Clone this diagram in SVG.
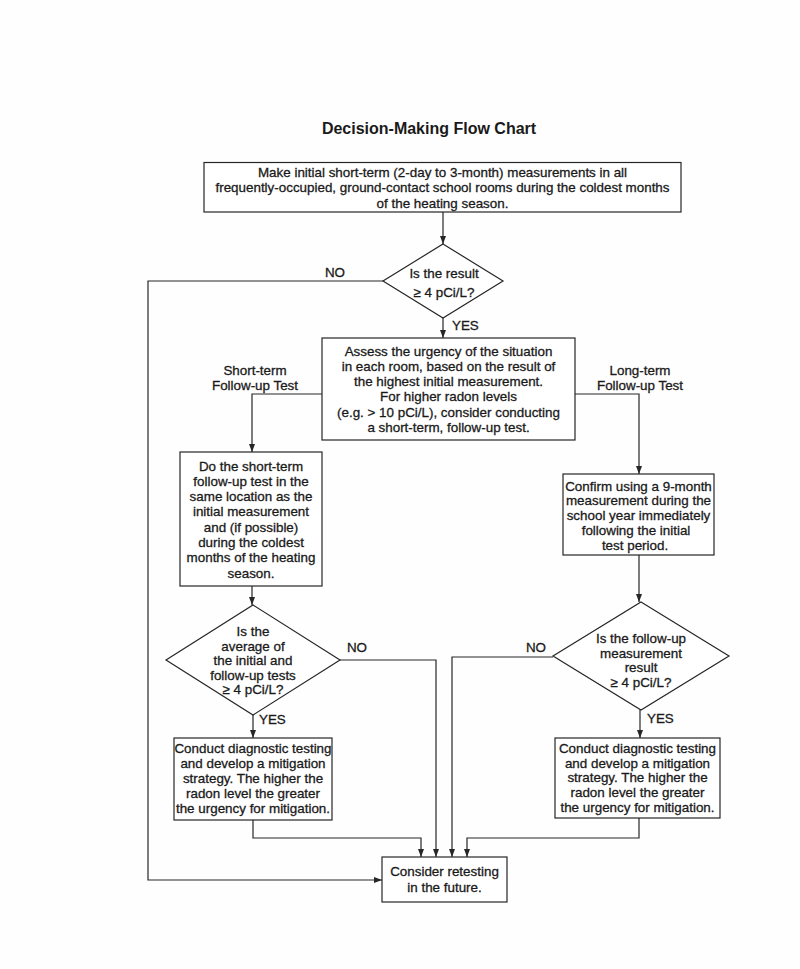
<svg xmlns="http://www.w3.org/2000/svg" width="800" height="969" viewBox="0 0 800 969">
<defs>
<marker id="arr" markerUnits="userSpaceOnUse" markerWidth="8" markerHeight="6" refX="8" refY="3" orient="auto">
<path d="M0,0 L8,3 L0,6 z" fill="#262626"/>
</marker>
<style>
.box{fill:#fff;stroke:#262626;stroke-width:1.2}
.t{font-family:"Liberation Sans",Arial,Helvetica,sans-serif;font-size:13.4px;fill:#1a1a1a;stroke:#1a1a1a;stroke-width:0.3;text-anchor:middle}
.l{font-family:"Liberation Sans",Arial,Helvetica,sans-serif;font-size:13.4px;fill:#1a1a1a;stroke:#1a1a1a;stroke-width:0.3}
.title{font-family:"Liberation Sans",Arial,Helvetica,sans-serif;font-size:16px;font-weight:bold;fill:#1a1a1a;text-anchor:middle}
.c{fill:none;stroke:#262626;stroke-width:1.2;marker-end:url(#arr)}
</style>
</defs>
<rect width="800" height="969" fill="#fefefe"/>
<text class="title" x="429" y="134">Decision-Making Flow Chart</text>

<g id="connectors">
<path class="c" d="M443,212 V244"/>
<path class="c" d="M383,281 H148 V880 H382"/>
<path class="c" d="M443,318 V338"/>
<path class="c" d="M322,394 H252 V452"/>
<path class="c" d="M575,394 H639 V474"/>
<path class="c" d="M252,586 V605"/>
<path class="c" d="M340,660 H436 V857"/>
<path class="c" d="M253,715 V738"/>
<path class="c" d="M253,820 V838 H421 V857"/>
<path class="c" d="M639,555 V602"/>
<path class="c" d="M553,657 H452 V857"/>
<path class="c" d="M640,710 V738"/>
<path class="c" d="M639,818 V838 H467 V857"/>
</g>

<g id="labels">
<text class="t" x="335" y="277">NO</text>
<text class="l" x="452" y="330">YES</text>
<text class="t" x="255" y="375">Short-term</text>
<text class="t" x="255" y="389.5">Follow-up Test</text>
<text class="t" x="640" y="375">Long-term</text>
<text class="t" x="640" y="389.5">Follow-up Test</text>
<text class="t" x="357" y="651.5">NO</text>
<text class="l" x="259" y="723.5">YES</text>
<text class="t" x="536" y="651.5">NO</text>
<text class="l" x="647" y="722.5">YES</text>
</g>

<g id="n-start">
<rect class="box" x="204" y="162.5" width="477" height="49.5"/>
<text class="t" x="442.5" y="176.5">Make initial short-term (2-day to 3-month) measurements in all</text>
<text class="t" x="442.5" y="192.2">frequently-occupied, ground-contact school rooms during the coldest months</text>
<text class="t" x="442.5" y="207.5">of the heating season.</text>
</g>

<g id="n-result">
<polygon class="box" points="443,244 503,281 443,318 383,281"/>
<text class="t" x="444" y="278">Is the result</text>
<text class="t" x="444" y="296.5">≥ 4 pCi/L?</text>
</g>

<g id="n-assess">
<rect class="box" x="322" y="338" width="253" height="102"/>
<text class="t" x="448.5" y="355.5">Assess the urgency of the situation</text>
<text class="t" x="448.5" y="370.8">in each room, based on the result of</text>
<text class="t" x="448.5" y="386.1">the highest initial measurement.</text>
<text class="t" x="448.5" y="401.4">For higher radon levels</text>
<text class="t" x="448.5" y="416.7">(e.g. &gt; 10 pCi/L), consider conducting</text>
<text class="t" x="448.5" y="432">a short-term, follow-up test.</text>
</g>

<g id="n-shortterm">
<rect class="box" x="180" y="452" width="142" height="134"/>
<text class="t" x="251" y="470.5">Do the short-term</text>
<text class="t" x="251" y="485.8">follow-up test in the</text>
<text class="t" x="251" y="501.1">same location as the</text>
<text class="t" x="251" y="516.4">initial measurement</text>
<text class="t" x="251" y="531.7">and (if possible)</text>
<text class="t" x="251" y="547">during the coldest</text>
<text class="t" x="251" y="562.3">months of the heating</text>
<text class="t" x="251" y="577.6">season.</text>
</g>

<g id="n-average">
<polygon class="box" points="253,605 340,660 253,715 166,660"/>
<text class="t" x="253" y="636">Is the</text>
<text class="t" x="253" y="650.5">average of</text>
<text class="t" x="253" y="665">the initial and</text>
<text class="t" x="253" y="679.5">follow-up tests</text>
<text class="t" x="253" y="694">≥ 4 pCi/L?</text>
</g>

<g id="n-mitigate-left">
<rect class="box" x="174" y="738" width="158" height="82"/>
<text class="t" x="253" y="752.7">Conduct diagnostic testing</text>
<text class="t" x="253" y="767.7">and develop a mitigation</text>
<text class="t" x="253" y="782.7">strategy.  The higher the</text>
<text class="t" x="253" y="797.7">radon level the greater</text>
<text class="t" x="253" y="812.7">the urgency for mitigation.</text>
</g>

<g id="n-longterm">
<rect class="box" x="563" y="474" width="151" height="81"/>
<text class="t" x="638.5" y="490.5">Confirm using a 9-month</text>
<text class="t" x="638.5" y="505.3">measurement during the</text>
<text class="t" x="638.5" y="520.1">school year immediately</text>
<text class="t" x="636" y="534.9">following the initial</text>
<text class="t" x="635" y="549.7">test period.</text>
</g>

<g id="n-followup">
<polygon class="box" points="641,602 729,656 641,710 553,656"/>
<text class="t" x="641" y="643">Is the follow-up</text>
<text class="t" x="641" y="657.5">measurement</text>
<text class="t" x="641" y="672">result</text>
<text class="t" x="641" y="686.5">≥ 4 pCi/L?</text>
</g>

<g id="n-mitigate-right">
<rect class="box" x="555" y="738" width="165" height="80"/>
<text class="t" x="637.5" y="752.7">Conduct diagnostic testing</text>
<text class="t" x="637.5" y="767.5">and develop a mitigation</text>
<text class="t" x="637.5" y="782.3">strategy.  The higher the</text>
<text class="t" x="637.5" y="797.1">radon level the greater</text>
<text class="t" x="637.5" y="811.9">the urgency for mitigation.</text>
</g>

<g id="n-retest">
<rect class="box" x="382" y="857" width="125" height="45"/>
<text class="t" x="444.5" y="876">Consider retesting</text>
<text class="t" x="444.5" y="892">in the future.</text>
</g>
</svg>
